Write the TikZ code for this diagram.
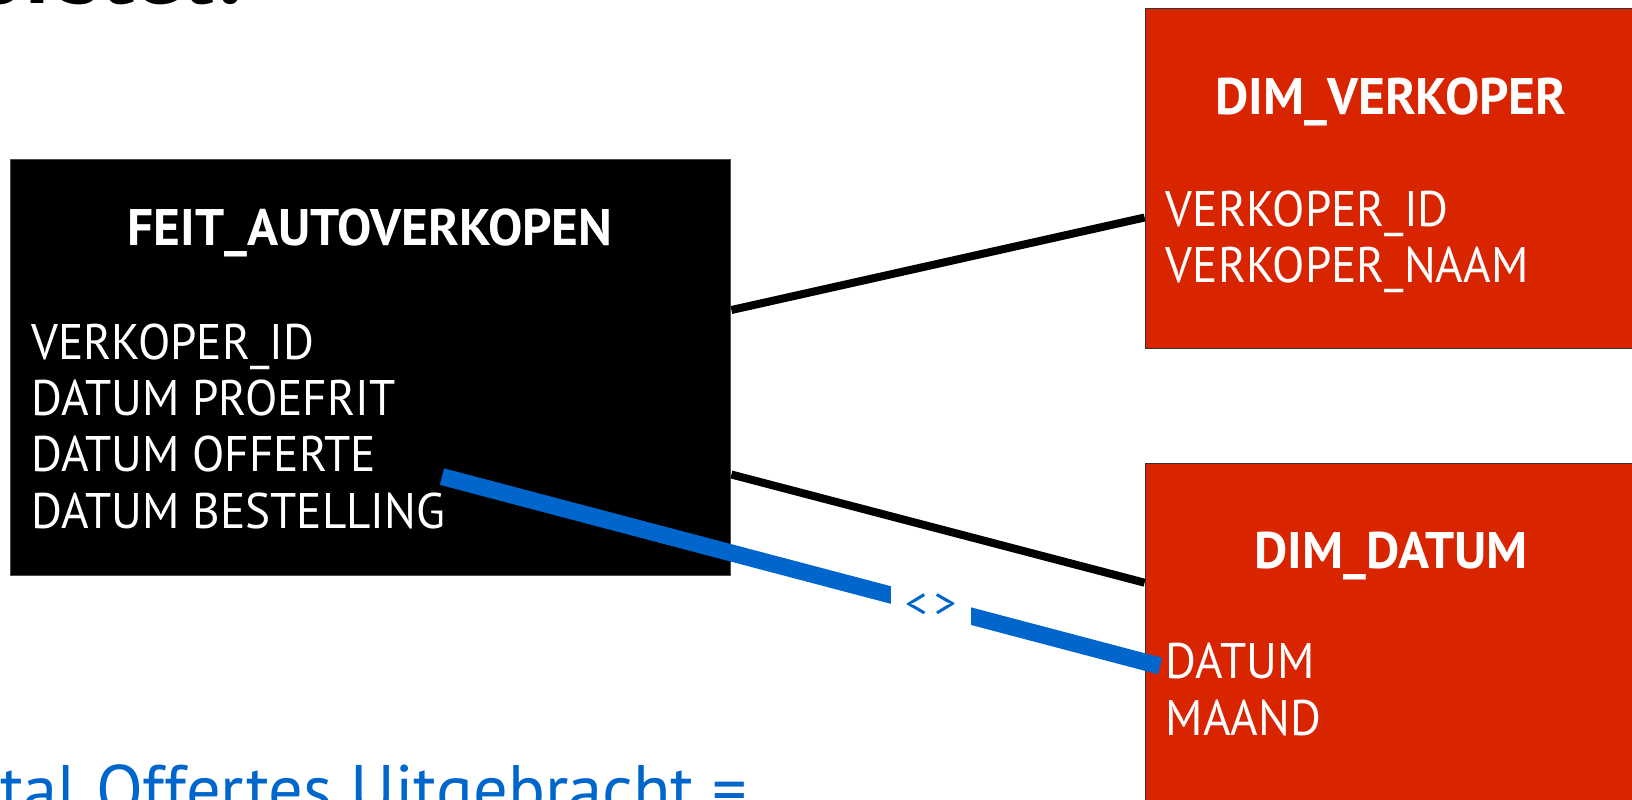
\documentclass[tikz,border=0pt]{standalone}
\usepackage{fontspec}
\setmainfont{PT Sans}
\newfontfamily\attrfont{PT Sans}[FakeStretch=0.945]
\definecolor{dimred}{RGB}{217,36,0}
\definecolor{linkblue}{RGB}{0,102,204}
\tikzset{
  factbox/.style={draw=black!70, line width=0.5pt, fill=black, inner sep=0pt, anchor=north west},
  dimbox/.style={draw=black!80, line width=0.5pt, fill=dimred, inner sep=0pt, anchor=north west},
  title/.style={text=white, font=\fontsize{25.7}{28}\selectfont\bfseries, inner sep=0pt, anchor=base},
  attr/.style={text=white, font=\attrfont\fontsize{25}{28}\selectfont, inner sep=0pt, anchor=base west},
  conn/.style={line width=4pt, black},
  bluelink/.style={line width=8.5pt, linkblue},
  lbl/.style={fill=white, text=linkblue, font=\fontsize{22}{24}\selectfont, inner sep=0pt, minimum width=40pt, minimum height=22pt}
}
\begin{document}
\begin{tikzpicture}[x=0.5pt,y=-0.5pt]
\useasboundingbox (0,0) rectangle (1632,799);
\clip (0,0) rectangle (1632,799);
% top partial heading
\node[anchor=base west, inner sep=0pt, font=\fontsize{49}{52}\selectfont\bfseries] (head) at (-28,3) {orstel:};
% boxes
\node[factbox, minimum width=360pt, minimum height=208pt] (feit) at (10.4,159) {};
\node[dimbox, minimum width=250pt, minimum height=170pt] (dimv) at (1144.6,8.3) {};
\node[dimbox, minimum width=250pt, minimum height=180pt] (dimd) at (1144.6,463) {};
% texts
\node[title] (feitT) at (370,245) {FEIT\_AUTOVERKOPEN};
\node[attr] (f1) at (31,359) {VERKOPER\_ID};
\node[attr] (f2) at (31,415) {DATUM PROEFRIT};
\node[attr] (f3) at (31,471) {DATUM OFFERTE};
\node[attr] (f4) at (31,528) {DATUM BESTELLING};
\node[title] (dimvT) at (1391,114) {DIM\_VERKOPER};
\node[attr] (v1) at (1165.5,226) {VERKOPER\_ID};
\node[attr] (v2) at (1165.5,282) {VERKOPER\_NAAM};
\node[title] (dimdT) at (1391,568) {DIM\_DATUM};
\node[attr] (d1) at (1165.5,678.5) {DATUM};
\node[attr] (d2) at (1165.5,735) {MAAND};
% bottom partial text
\node[anchor=base west, inner sep=0pt, text=linkblue, font=\fontsize{34.3}{38}\selectfont] (bottom) at (0,813) {tal Offertes Uitgebracht =};
% connectors
\draw[conn] (feit.north east |- 0,310) -- (dimv.north west |- 0,217.5);
\draw[conn] (feit.north east |- 0,474.5) -- (dimd.north west |- 0,582.7);
\coordinate (bs) at (442,476.6);
\coordinate (be) at (1160,666);
\draw[bluelink] (bs) -- (be) node[lbl, pos=0.681] (neq) {<\,>};
\end{tikzpicture}
\end{document}
